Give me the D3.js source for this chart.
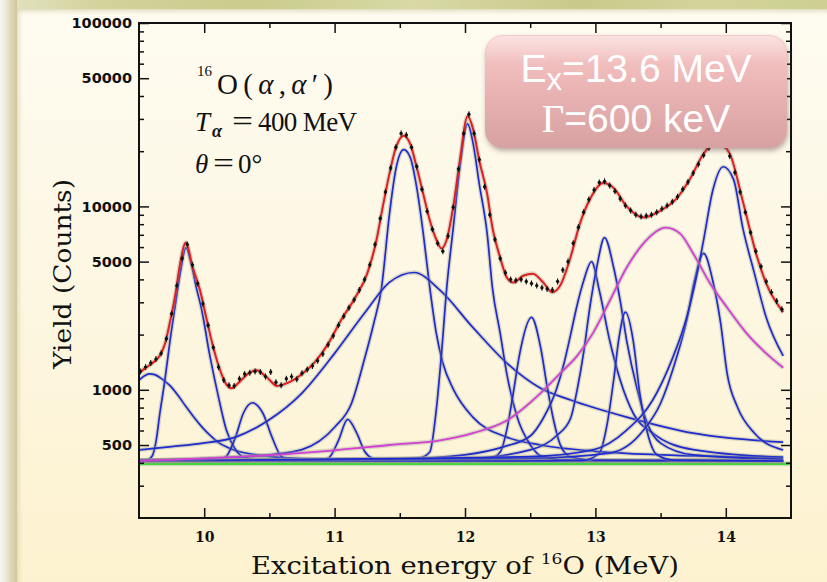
<!DOCTYPE html>
<html><head><meta charset="utf-8">
<script src="https://cdn.jsdelivr.net/npm/d3@7"></script>
<style>html,body{margin:0;padding:0;background:#fdf8e6;overflow:hidden}</style>
</head><body>
<svg id="c" width="827" height="582"></svg>
<script>
// ---------- DATA ----------
const xDomain = [9.5, 14.5];
const yDomain = [200, 100000];
const xMajorTicks = [10, 11, 12, 13, 14];
const xMinorTicks = [10.5, 11.5, 12.5, 13.5];
const yMajorTicks = [500, 1000, 5000, 10000, 50000, 100000];
const yTickLabels = ["500", "1000", "5000", "10000", "50000", "100000"];
const yMinorTicks = [300,400,600,700,800,900,2000,3000,4000,6000,7000,8000,9000,20000,30000,40000,60000,70000,80000,90000];

// flat background (green)
const background = [[9.5, 395], [14.5, 395]];

// blue components (background included), [E (MeV), yield]
const peak960 = [[9.5,1130],[9.54,1190],[9.58,1220],[9.62,1210],[9.68,1140],[9.74,1050],[9.80,930],[9.86,810],[9.92,710],[9.98,630],[10.05,560],[10.11,515],[10.18,485],[10.24,467],[10.35,448],[10.49,434],[10.75,422],[11.0,416],[11.5,412],[12.5,410],[14.44,409]];
const peak986 = [[9.5,409],[9.56,413],[9.60,434],[9.63,520],[9.66,745],[9.70,1150],[9.74,1900],[9.78,2950],[9.82,4500],[9.86,5950],[9.90,4900],[9.94,3600],[9.98,2750],[10.04,1580],[10.11,910],[10.17,603],[10.24,472],[10.31,428],[10.45,413],[11.0,409],[14.44,409]];
const peak1037 = [[9.5,409],[10.1,411],[10.17,434],[10.24,552],[10.30,745],[10.37,850],[10.45,745],[10.52,552],[10.59,434],[10.66,414],[11.0,409],[14.44,409]];
const peak1110 = [[9.5,409],[10.9,411],[10.96,428],[11.03,530],[11.10,690],[11.17,580],[11.23,462],[11.29,422],[11.36,411],[14.44,409]];
const peak1152 = [[9.5,414],[10.0,422],[10.5,442],[10.75,472],[11.0,625],[11.13,845],[11.23,1480],[11.30,2300],[11.36,3600],[11.42,9000],[11.47,16000],[11.53,20400],[11.58,18500],[11.63,12650],[11.68,7110],[11.73,3610],[11.78,2030],[11.83,1400],[11.91,1010],[12.06,710],[12.32,552],[12.58,500],[13.0,462],[13.5,442],[14.44,428]];
const peak1161 = [[9.5,470],[9.75,490],[9.98,510],[10.24,552],[10.49,680],[10.75,960],[11.0,1580],[11.23,2620],[11.42,3850],[11.61,4360],[11.81,3480],[12.06,2190],[12.32,1400],[12.58,1020],[12.81,880],[13.24,710],[13.75,580],[14.44,518]];
const peak1202 = [[9.5,409],[11.5,413],[11.65,424],[11.73,458],[11.78,780],[11.82,1580],[11.86,3610],[11.91,7660],[11.96,16250],[12.02,28200],[12.06,22500],[12.11,13200],[12.17,7110],[12.21,3610],[12.27,2030],[12.32,1230],[12.40,710],[12.50,502],[12.60,430],[12.8,413],[14.44,409]];
const peak1250 = [[9.5,409],[12.0,412],[12.2,424],[12.27,458],[12.32,603],[12.37,960],[12.42,1580],[12.51,2480],[12.58,1700],[12.63,1040],[12.68,680],[12.73,502],[12.81,430],[13.0,413],[14.44,409]];
const peak1296 = [[9.5,410],[11.5,420],[12.0,442],[12.3,490],[12.5,560],[12.6,700],[12.7,1000],[12.76,1400],[12.81,2000],[12.86,2900],[12.91,3930],[12.97,5000],[13.03,3480],[13.11,1850],[13.19,1130],[13.29,745],[13.44,580],[13.75,472],[14.44,428]];
const peak1307 = [[9.5,410],[12.0,422],[12.5,470],[12.7,560],[12.81,700],[12.86,1000],[12.91,1600],[12.96,2900],[13.01,4640],[13.07,6760],[13.14,4640],[13.19,3060],[13.24,1850],[13.32,1010],[13.40,650],[13.50,512],[13.75,442],[14.44,418]];
const peak1323 = [[9.5,409],[12.9,412],[13.03,452],[13.09,650],[13.14,1130],[13.18,1900],[13.23,2650],[13.29,1850],[13.34,960],[13.40,580],[13.47,444],[13.6,414],[14.44,409]];
const peak1383 = [[9.5,409],[12.5,424],[13.11,452],[13.37,603],[13.50,845],[13.62,1480],[13.70,2390],[13.76,3930],[13.83,5540],[13.90,3930],[13.96,2320],[14.01,1230],[14.09,803],[14.22,580],[14.44,470]];
const peak1398 = [[9.5,412],[12.5,432],[12.98,470],[13.24,603],[13.44,880],[13.59,1480],[13.70,2480],[13.78,4300],[13.83,6570],[13.90,12200],[13.98,16450],[14.06,14000],[14.13,7660],[14.22,4300],[14.31,2480],[14.44,1530]];
const bluePeaks = [peak960, peak986, peak1037, peak1110, peak1152, peak1161, peak1202, peak1250, peak1296, peak1307, peak1323, peak1383, peak1398];

// magenta: Ex = 13.6 MeV, Gamma = 600 keV
const state136 = [[9.5,410],[10.49,440],[11.0,468],[11.42,500],[11.81,530],[12.06,580],[12.32,680],[12.58,960],[12.73,1230],[12.86,1530],[12.98,2030],[13.11,3060],[13.24,4640],[13.37,6300],[13.54,7660],[13.65,7110],[13.75,5540],[13.88,3800],[14.01,2810],[14.16,2030],[14.31,1580],[14.44,1320]];

// red: total fit
const totalFit = [[9.50,1230],[9.54,1300],[9.58,1360],[9.62,1430],[9.66,1540],[9.70,1790],[9.74,2390],[9.78,3350],[9.81,4640],[9.86,6350],[9.91,4700],[9.97,3450],[10.02,2400],[10.07,1700],[10.12,1290],[10.17,1070],[10.21,1020],[10.26,1085],[10.34,1230],[10.40,1280],[10.48,1170],[10.56,1050],[10.64,1090],[10.75,1220],[10.85,1420],[10.95,1780],[11.05,2400],[11.16,3200],[11.25,4300],[11.32,6500],[11.37,10000],[11.42,15000],[11.47,20900],[11.53,24300],[11.58,21900],[11.63,16300],[11.68,11700],[11.73,8400],[11.78,6600],[11.82,5900],[11.86,6600],[11.91,10000],[11.96,17700],[12.02,31000],[12.06,26800],[12.11,17700],[12.17,11700],[12.21,7700],[12.27,5250],[12.32,4100],[12.37,3850],[12.45,4200],[12.52,4300],[12.60,3850],[12.67,3400],[12.73,3700],[12.81,5300],[12.88,8000],[12.96,11000],[13.06,13400],[13.14,12600],[13.24,10000],[13.37,8700],[13.50,9500],[13.62,11000],[13.73,14300],[13.83,19400],[13.93,22500],[14.03,19400],[14.13,10700],[14.24,5300],[14.31,3800],[14.44,2650]];

// black: measured spectrum
const spectrum = [[9.51,1260],[9.55,1330],[9.59,1400],[9.63,1470],[9.67,1580],[9.71,1900],[9.75,2600],[9.79,3700],[9.83,5200],[9.87,6200],[9.91,4800],[9.95,3800],[9.99,2950],[10.03,2250],[10.07,1700],[10.11,1330],[10.15,1130],[10.19,1060],[10.23,1050],[10.27,1150],[10.31,1220],[10.35,1240],[10.39,1260],[10.43,1250],[10.47,1180],[10.51,1250],[10.55,1100],[10.59,1060],[10.63,1150],[10.67,1180],[10.71,1140],[10.75,1230],[10.79,1290],[10.83,1350],[10.87,1440],[10.91,1570],[10.95,1760],[10.99,1970],[11.03,2250],[11.07,2520],[11.11,2800],[11.15,3100],[11.19,3500],[11.23,4000],[11.27,4800],[11.31,6200],[11.35,8600],[11.39,12000],[11.43,16200],[11.47,21000],[11.51,25000],[11.55,24500],[11.59,21000],[11.63,16500],[11.67,12400],[11.71,9400],[11.75,7500],[11.79,6300],[11.83,5700],[11.87,6900],[11.91,9900],[11.95,16000],[11.99,25000],[12.03,31800],[12.07,25000],[12.11,18000],[12.15,12800],[12.19,9000],[12.23,6600],[12.27,5200],[12.31,4350],[12.35,4000],[12.39,3950],[12.43,4000],[12.47,3900],[12.51,3800],[12.55,3700],[12.59,3600],[12.63,3550],[12.67,3500],[12.71,3900],[12.75,4500],[12.79,5000],[12.83,6300],[12.87,7700],[12.91,9300],[12.95,10900],[12.99,12300],[13.03,13500],[13.07,13700],[13.11,13000],[13.15,12100],[13.19,11000],[13.23,10100],[13.27,9500],[13.31,9000],[13.35,8800],[13.39,8900],[13.43,9000],[13.47,9300],[13.51,9700],[13.55,10100],[13.59,10600],[13.63,11300],[13.67,12400],[13.71,13600],[13.75,15200],[13.79,17000],[13.83,19000],[13.87,20800],[13.91,22000],[13.95,22500],[13.99,21500],[14.03,18800],[14.07,15300],[14.11,12000],[14.15,9300],[14.19,7200],[14.23,5700],[14.27,4700],[14.31,3900],[14.35,3400],[14.39,3050],[14.43,2750]];

// ---------- DRAWING ----------
const W = 827, H = 582;
const L = 139, R = 791, T = 23, B = 518;
const svg = d3.select("#c");
const defs = svg.append("defs");

function lg(id, x2, y2, stops) {
  const g = defs.append("linearGradient").attr("id", id).attr("x1", 0).attr("y1", 0).attr("x2", x2).attr("y2", y2);
  stops.forEach(s => g.append("stop").attr("offset", s[0]).attr("stop-color", s[1]).attr("stop-opacity", s[2] === undefined ? 1 : s[2]));
}
lg("panel", 0, 1, [[0, "#fefbf1"], [0.5, "#fdf7e2"], [1, "#fdf2cf"]]);
lg("topband", 1, 0, [[0, "#e4e3c4"], [0.12, "#d3d39c"], [0.3, "#c9cc8b"], [0.5, "#d8d9a6"], [0.7, "#c8ca8a"], [0.85, "#d3d49a"], [1, "#cdd092"]]);
lg("leftstrip", 1, 0, [[0, "#f5f5f2"], [0.25, "#efede2"], [0.7, "#ddd4b2"], [1, "#d2c79c"]]);
lg("topshadow", 0, 1, [[0, "#c9c49a", 0.55], [1, "#f4efd6", 0]]);
lg("leftshadow", 1, 0, [[0, "#c8bf98", 0.45], [1, "#f4efd6", 0]]);
lg("boxfill", 0, 1, [[0, "#f8caca"], [0.45, "#ebb5b5"], [1, "#d7a1a1"]]);
lg("boxshine", 0, 1, [[0, "#ffffff", 0.45], [0.25, "#ffffff", 0.0]]);

const shadow = defs.append("filter").attr("id", "shadow").attr("x", "-10%").attr("y", "-10%").attr("width", "125%").attr("height", "140%");
shadow.append("feDropShadow").attr("dx", 1).attr("dy", 3).attr("stdDeviation", 2.5).attr("flood-color", "#6b4a4a").attr("flood-opacity", 0.45);

defs.append("clipPath").attr("id", "plotclip").append("rect").attr("x", L).attr("y", T).attr("width", R - L).attr("height", B - T);

// page background
svg.append("rect").attr("width", W).attr("height", H).attr("fill", "url(#panel)");
svg.append("rect").attr("x", 0).attr("y", 9).attr("width", W).attr("height", 7).attr("fill", "url(#topshadow)");
svg.append("rect").attr("x", 17).attr("y", 0).attr("width", 7).attr("height", H).attr("fill", "url(#leftshadow)");
svg.append("rect").attr("width", W).attr("height", 9).attr("fill", "url(#topband)");
svg.append("rect").attr("width", 17).attr("height", H).attr("fill", "url(#leftstrip)");

// scales
const x = d3.scaleLinear().domain(xDomain).range([L, R]);
const y = d3.scaleLog().domain(yDomain).range([B, T]);

const line = d3.line().x(d => x(d[0])).y(d => y(d[1])).curve(d3.curveMonotoneX);

const plot = svg.append("g").attr("clip-path", "url(#plotclip)");

function drawCurve(data, color, width) {
  plot.append("path").attr("d", line(data)).attr("fill", "none")
    .attr("stroke", "#9c9a8c").attr("stroke-opacity", 0.35).attr("stroke-width", width + 2.6)
    .attr("stroke-linejoin", "round");
  plot.append("path").attr("d", line(data)).attr("fill", "none")
    .attr("stroke", color).attr("stroke-width", width).attr("stroke-linejoin", "round");
}

drawCurve(background, "#3ddc3d", 2.4);
bluePeaks.forEach(p => drawCurve(p, "#1d2bd0", 1.7));
drawCurve(state136, "#d23ed6", 1.8);
drawCurve(totalFit, "#e41d1d", 2.0);

// measured points
const pts = plot.append("g");
pts.selectAll("line").data(spectrum).join("line")
  .attr("x1", d => x(d[0])).attr("x2", d => x(d[0]))
  .attr("y1", d => y(d[1]) - 3).attr("y2", d => y(d[1]) + 3)
  .attr("stroke", "#111").attr("stroke-width", 1.1);
pts.selectAll("circle").data(spectrum).join("circle")
  .attr("cx", d => x(d[0])).attr("cy", d => y(d[1])).attr("r", 1.7).attr("fill", "#111");

// axes
function styleAxis(g) {
  g.select(".domain").remove();
  g.selectAll(".tick line").attr("stroke", "#111").attr("stroke-width", 1.5);
}
const yLeft = svg.append("g").attr("transform", `translate(${L},0)`)
  .call(d3.axisLeft(y).tickValues(yMajorTicks).tickFormat((d, i) => yTickLabels[i]).tickSizeInner(-10).tickSizeOuter(0).tickPadding(7));
yLeft.call(styleAxis);
yLeft.selectAll("text").attr("font-family", "'DejaVu Sans', sans-serif").attr("font-weight", "bold").attr("font-size", 14.5).attr("fill", "#111");
svg.append("g").attr("transform", `translate(${L},0)`)
  .call(d3.axisLeft(y).tickValues(yMinorTicks).tickFormat("").tickSizeInner(-5).tickSizeOuter(0)).call(styleAxis);
svg.append("g").attr("transform", `translate(${R},0)`)
  .call(d3.axisRight(y).tickValues(yMajorTicks).tickFormat("").tickSizeInner(-10).tickSizeOuter(0)).call(styleAxis);
svg.append("g").attr("transform", `translate(${R},0)`)
  .call(d3.axisRight(y).tickValues(yMinorTicks).tickFormat("").tickSizeInner(-5).tickSizeOuter(0)).call(styleAxis);

const xBottom = svg.append("g").attr("transform", `translate(0,${B})`)
  .call(d3.axisBottom(x).tickValues(xMajorTicks).tickFormat(d3.format("d")).tickSizeInner(-10).tickSizeOuter(0).tickPadding(14));
xBottom.call(styleAxis);
xBottom.selectAll("text").attr("font-family", "'DejaVu Serif', serif").attr("font-weight", "bold").attr("font-size", 14).attr("fill", "#111");
svg.append("g").attr("transform", `translate(0,${B})`)
  .call(d3.axisBottom(x).tickValues(xMinorTicks).tickFormat("").tickSizeInner(-5).tickSizeOuter(0)).call(styleAxis);
svg.append("g").attr("transform", `translate(0,${T})`)
  .call(d3.axisTop(x).tickValues(xMajorTicks).tickFormat("").tickSizeInner(-10).tickSizeOuter(0)).call(styleAxis);
svg.append("g").attr("transform", `translate(0,${T})`)
  .call(d3.axisTop(x).tickValues(xMinorTicks).tickFormat("").tickSizeInner(-5).tickSizeOuter(0)).call(styleAxis);

// frame
svg.append("rect").attr("x", L).attr("y", T).attr("width", R - L).attr("height", B - T)
  .attr("fill", "none").attr("stroke", "#111").attr("stroke-width", 2);

// axis titles
svg.append("text").attr("transform", "translate(71,274) rotate(-90)").attr("text-anchor", "middle")
  .attr("font-family", "'DejaVu Serif', serif").attr("font-size", 24).attr("fill", "#111")
  .attr("textLength", 190).attr("lengthAdjust", "spacingAndGlyphs")
  .text("Yield (Counts)");
const xt = svg.append("text").attr("x", 465).attr("y", 574).attr("text-anchor", "middle")
  .attr("font-family", "'DejaVu Serif', serif").attr("font-size", 24).attr("fill", "#111")
  .attr("textLength", 428).attr("lengthAdjust", "spacingAndGlyphs");
xt.append("tspan").text("Excitation energy of ");
xt.append("tspan").attr("font-size", 15).attr("dy", -10).text("16");
xt.append("tspan").attr("dy", 10).text("O (MeV)");

// annotations
const ann = svg.append("g").attr("font-family", "'Liberation Serif', 'Times New Roman', serif").attr("fill", "#111");
ann.append("text").attr("x", 197).attr("y", 76).attr("font-size", 15).text("16");
const a1 = ann.append("text").attr("x", 217).attr("y", 94).attr("font-size", 29).attr("textLength", 116).attr("lengthAdjust", "spacing");
a1.append("tspan").text("O(");
a1.append("tspan").attr("font-style", "italic").text("α");
a1.append("tspan").text(",");
a1.append("tspan").attr("font-style", "italic").text("α");
a1.append("tspan").text("′)");
ann.append("text").attr("x", 195).attr("y", 131).attr("font-size", 27).attr("font-style", "italic").text("T");
ann.append("text").attr("x", 212).attr("y", 137).attr("font-size", 18).attr("font-style", "italic").attr("font-weight", "bold").text("α");
ann.append("text").attr("x", 232).attr("y", 131).attr("font-size", 29).attr("textLength", 21).attr("lengthAdjust", "spacingAndGlyphs").text("=");
ann.append("text").attr("x", 258).attr("y", 131).attr("font-size", 27).attr("textLength", 99).attr("lengthAdjust", "spacing").text("400 MeV");
ann.append("text").attr("x", 195).attr("y", 173).attr("font-size", 27).attr("font-style", "italic").text("θ");
ann.append("text").attr("x", 213).attr("y", 173).attr("font-size", 29).attr("textLength", 21).attr("lengthAdjust", "spacingAndGlyphs").text("=");
ann.append("text").attr("x", 238).attr("y", 173).attr("font-size", 27).text("0°");

// highlighted state box
const box = svg.append("g");
box.append("rect").attr("x", 485).attr("y", 35).attr("width", 302).attr("height", 113).attr("rx", 18)
  .attr("fill", "url(#boxfill)").attr("filter", "url(#shadow)");
box.append("rect").attr("x", 486).attr("y", 36).attr("width", 300).attr("height", 111).attr("rx", 17)
  .attr("fill", "url(#boxshine)");
const t1 = box.append("text").attr("x", 636).attr("y", 82).attr("text-anchor", "middle")
  .attr("font-family", "'Liberation Sans', Arial, sans-serif").attr("font-size", 39).attr("fill", "#ffffff");
t1.append("tspan").text("E");
t1.append("tspan").attr("dy", 8).attr("font-size", 31).text("x");
t1.append("tspan").attr("dy", -8).text("=13.6 MeV");
const t2 = box.append("text").attr("x", 636).attr("y", 132).attr("text-anchor", "middle")
  .attr("font-family", "'Liberation Sans', Arial, sans-serif").attr("font-size", 39).attr("fill", "#ffffff");
t2.append("tspan").attr("font-family", "'Liberation Serif', 'Times New Roman', serif").text("Γ");
t2.append("tspan").text("=600 keV");
</script>
</body></html>
